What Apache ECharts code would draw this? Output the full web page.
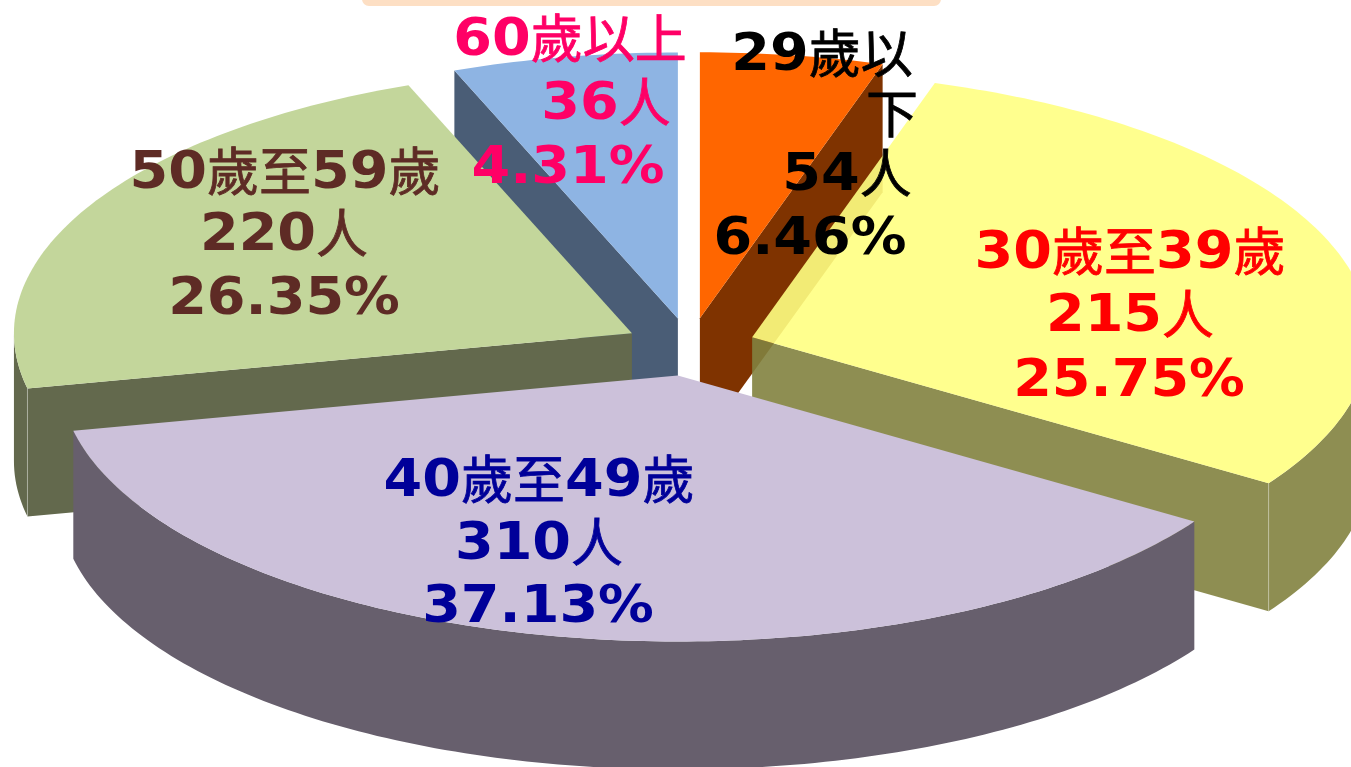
<!DOCTYPE html>
<html>
<head>
<meta charset="utf-8">
<title>年齡分布</title>
<style>
html, body { margin: 0; padding: 0; background: #fff; }
#chart { width: 1351px; height: 767px; }
</style>
<script src="https://cdn.jsdelivr.net/npm/echarts@6/dist/echarts.min.js"></script>
</head>
<body>
<div id="chart"></div>
<script>
// slice data, clockwise from 12 o'clock
var ageGroups = ['29歲以下', '30歲至39歲', '40歲至49歲', '50歲至59歲', '60歲以上'];
var headcounts = [54, 215, 310, 220, 36];
var percentLabels = ['6.46%', '25.75%', '37.13%', '26.35%', '4.31%'];
// sweep of each slice, it is not the same as the printed percentages
var sweepDegrees = [17.2, 106.1, 134.7, 80.8, 21.2];

var topColors = ['#FF6600', '#FFFF82', '#CCC1DA', '#C3D69B', '#8EB4E3'];
var sideColors = ['#7F3300', '#82823F', '#675F6D', '#63694D', '#4A5D76'];
var textColors = ['#000000', '#FF0000', '#000099', '#5E2B25', '#FF0066'];
var sliceOpacity = [1, 0.9, 1, 1, 1];

// back slices are painted first
var paintOrder = [4, 0, 3, 1, 2];

// pie geometry
var centerX = 690, centerY = 347;
var radiusX = 618, radiusY = 266, depth = 128;
var explodeX = 66, explodeY = 29;

// text lines of each label: [centre x, centre y]
var labelLines = [
    [[822, 56], [892, 116], [847, 176], [810, 240]],
    [[1130, 254], [1130, 317], [1129, 382]],
    [[539, 482], [539, 545], [538, 608]],
    [[285, 174], [284, 236], [284, 300]],
    [[570, 41], [606, 105], [568, 169]]
];
// the reference text is stretched, digits more than the CJK glyphs
var digitFont = 'bold 52px "DejaVu Sans"', digitStretch = 1.07;
var cjkFont = 'normal 52px "Noto Sans CJK TC"', cjkStretch = 1, cjkLift = -3;

var measureCtx = document.createElement('canvas').getContext('2d');

function labelTexts(i) {
    var lines = [ageGroups[i], headcounts[i] + '人', percentLabels[i]];
    // the first label wraps in the reference
    if (i === 0) {
        lines = ['29歲以', '下', headcounts[i] + '人', percentLabels[i]];
    }
    return lines;
}

function toRad(deg) {
    return deg * Math.PI / 180;
}

function rimPoint(apex, deg, drop) {
    return [
        apex[0] + radiusX * Math.sin(toRad(deg)),
        apex[1] - radiusY * Math.cos(toRad(deg)) + (drop || 0)
    ];
}

function arcPoints(apex, from, to, drop) {
    var pts = [], steps = Math.max(2, Math.ceil(Math.abs(to - from)));
    for (var i = 0; i <= steps; i++) {
        pts.push(rimPoint(apex, from + (to - from) * i / steps, drop));
    }
    return pts;
}

function poly(points, fill, opacity) {
    return {
        type: 'polygon',
        shape: { points: points },
        style: { fill: fill, opacity: opacity }
    };
}

function cutFace(apex, deg, fill, opacity) {
    var end = rimPoint(apex, deg);
    return poly([apex, end, [end[0], end[1] + depth], [apex[0], apex[1] + depth]], fill, opacity);
}

function renderSlice(params, api) {
    var i = api.value(0), start = api.value(1), sweep = api.value(2);
    var end = start + sweep, mid = toRad(start + sweep / 2);
    var apex = [centerX + explodeX * Math.sin(mid), centerY - explodeY * Math.cos(mid)];
    var side = sideColors[i], opacity = sliceOpacity[i];
    var children = [];

    // the straight cut faces that look towards the viewer
    if (start > 180 && start < 360) {
        children.push(cutFace(apex, start, side, opacity));
    }
    if (end > 0 && end < 180) {
        children.push(cutFace(apex, end, side, opacity));
    }

    // outer wall, front half only
    var wallFrom = Math.max(start, 90), wallTo = Math.min(end, 270);
    if (wallTo > wallFrom) {
        var wall = arcPoints(apex, wallFrom, wallTo, 0)
            .concat(arcPoints(apex, wallTo, wallFrom, depth));
        children.push(poly(wall, side, opacity));
    }

    // pale seam where a cut face meets the wall
    var seam = end < 180 && end > 90 ? end : (start > 180 && start < 270 ? start : null);
    if (seam !== null) {
        var p = rimPoint(apex, seam);
        children.push({
            type: 'line',
            shape: { x1: p[0], y1: p[1], x2: p[0], y2: p[1] + depth },
            style: { stroke: 'rgba(255,255,255,0.3)', lineWidth: 1 }
        });
    }

    children.push(poly([apex].concat(arcPoints(apex, start, end, 0)), topColors[i], opacity));
    return { type: 'group', children: children };
}

// one line of text, split in digit and CJK runs laid out side by side
function lineElements(line, pos, color) {
    var total = 0;
    var runs = line.match(/[0-9.%]+|[^0-9.%]+/g).map(function (text) {
        var digits = /^[0-9.%]/.test(text);
        measureCtx.font = digits ? digitFont : cjkFont;
        var stretch = digits ? digitStretch : cjkStretch;
        var width = measureCtx.measureText(text).width * stretch;
        total += width;
        return { text: text, digits: digits, stretch: stretch, width: width };
    });
    var left = pos[0] - total / 2;
    return runs.map(function (run) {
        var el = {
            type: 'text',
            x: left,
            y: pos[1] + (run.digits ? 0 : cjkLift),
            scaleX: run.stretch,
            style: {
                text: run.text,
                font: run.digits ? digitFont : cjkFont,
                fill: color,
                stroke: run.digits ? null : color,
                lineWidth: run.digits ? 0 : 0.8,
                align: 'left',
                verticalAlign: 'middle'
            }
        };
        left += run.width;
        return el;
    });
}

function renderLabel(params, api) {
    var i = api.value(0), children = [];
    labelTexts(i).forEach(function (line, n) {
        children = children.concat(lineElements(line, labelLines[i][n], textColors[i]));
    });
    return { type: 'group', children: children };
}

var startDegrees = [];
sweepDegrees.reduce(function (sum, sweep, i) {
    startDegrees[i] = sum;
    return sum + sweep;
}, 0);

var sliceData = paintOrder.map(function (i) {
    return [i, startDegrees[i], sweepDegrees[i]];
});

var chart = echarts.init(document.getElementById('chart'));
chart.setOption({
    backgroundColor: '#ffffff',
    animation: false,
    // pale strip of the cropped title box at the top edge
    graphic: [{
        type: 'rect',
        z: 0,
        shape: { x: 362, y: -14, width: 579, height: 20, r: 7 },
        style: { fill: '#FDDFC4' }
    }],
    series: [{
        type: 'custom',
        coordinateSystem: 'none',
        z: 2,
        silent: true,
        renderItem: renderSlice,
        data: sliceData
    }, {
        type: 'custom',
        coordinateSystem: 'none',
        z: 3,
        silent: true,
        renderItem: renderLabel,
        data: sliceData
    }]
});
</script>
</body>
</html>
